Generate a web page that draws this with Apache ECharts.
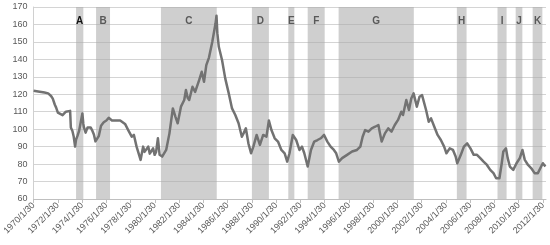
<!DOCTYPE html>
<html>
<head>
<meta charset="utf-8">
<script src="https://cdn.jsdelivr.net/npm/echarts@6/dist/echarts.min.js"></script>
<style>html,body{margin:0;padding:0;background:#fff;}#c{width:550px;height:245px;}</style>
</head>
<body>
<div id="c"></div>
<script>
const dates = [1970.0,1970.5,1970.9,1971.2,1971.44,1971.58,1971.75,1971.85,1972.0,1972.12,1972.39,1972.66,1973.01,1973.07,1973.2,1973.3,1973.42,1973.5,1973.61,1973.75,1973.88,1974.02,1974.1,1974.15,1974.29,1974.45,1974.56,1974.7,1974.85,1974.97,1975.1,1975.24,1975.37,1975.56,1975.78,1976.0,1976.19,1976.46,1976.86,1977.14,1977.27,1977.54,1977.8,1978.09,1978.27,1978.49,1978.63,1978.82,1979.03,1979.15,1979.3,1979.45,1979.58,1979.7,1979.85,1979.98,1980.1,1980.25,1980.39,1980.6,1980.93,1981.2,1981.48,1981.69,1981.88,1982.15,1982.42,1982.56,1982.7,1982.83,1983.1,1983.32,1983.65,1983.86,1984.05,1984.24,1984.46,1984.73,1985.0,1985.08,1985.15,1985.27,1985.54,1985.8,1986.09,1986.36,1986.63,1986.9,1987.17,1987.31,1987.5,1987.71,1987.93,1988.12,1988.39,1988.66,1988.93,1989.2,1989.4,1989.61,1989.88,1990.15,1990.43,1990.7,1990.91,1991.1,1991.37,1991.65,1991.92,1992.13,1992.32,1992.6,1992.87,1993.14,1993.41,1993.68,1993.95,1994.22,1994.49,1994.76,1994.95,1995.17,1995.44,1995.85,1996.26,1996.66,1996.94,1997.13,1997.34,1997.61,1997.88,1998.16,1998.43,1998.56,1998.7,1998.97,1999.24,1999.51,1999.78,2000.05,2000.32,2000.46,2000.73,2000.95,2001.14,2001.33,2001.6,2001.82,2002.03,2002.36,2002.58,2002.77,2003.04,2003.31,2003.58,2003.85,2004.04,2004.31,2004.58,2004.8,2004.93,2005.21,2005.48,2005.75,2006.02,2006.29,2006.56,2006.83,2007.1,2007.38,2007.65,2007.92,2008.14,2008.41,2008.6,2008.73,2008.95,2009.09,2009.27,2009.55,2009.82,2010.09,2010.31,2010.5,2010.77,2011.04,2011.31,2011.58,2011.85,2011.99,2012.2];
const values = [122,121.5,121,120.5,119,117.5,114,112.5,109.5,108.5,108,110,110.5,101,99,96,90,94,96,99,100,109,103,101,98,101,102,101,99,97,93,94,96,102,104,105,106.5,105,105,105,104,103,99.5,95.7,96.7,90,89,82.4,90,87,88,90,86,87,89,85.3,87,94.8,85.3,84.3,88.1,97.6,111.9,107.2,103.4,112.9,116.7,122.4,118,116.7,124.3,121.4,128.1,132.9,127.2,136.7,141,150,160.5,165,155,147.2,139.5,129.1,120.5,111.9,108.1,103.4,95.7,97.6,100.5,91.9,86.2,90,96.7,91,96.7,95.7,105,99.5,94.8,92.9,88.1,86.2,81.4,86.2,96.7,93.8,88.1,90,86.2,78.6,88.1,92.9,93.8,94.8,96.7,92.9,90,88.1,86.2,81.4,83.4,85.3,87.2,88.1,90,95.7,99.5,98.6,100.5,101.4,102.4,97.6,92.9,97.6,100.5,98.6,102.4,105.3,110,108.1,116.7,111,117.6,120.5,112.9,118.6,119.5,111,104.3,106.2,101.4,96.7,93.8,90,86.2,89,88.1,84.3,80.5,85,90,91.9,89,85.3,85.3,83.4,81.4,79.5,76.7,74.8,71.9,71.9,80.5,87.2,89,83.4,78.6,76.7,80.5,83.4,88.1,82.4,79.5,77.6,74.8,74.8,78.6,80.5,78.6];
const bandNames = ['A','B','C','D','E','F','G','H','I','J','K'];
const bandStarts = [1973.5,1975.15,1980.5,1988.0,1991.0,1992.6,1995.15,2004.9,2008.25,2009.75,2011.15];
const bandEnds = [1974.1,1976.3,1985.1,1989.4,1991.5,1994.0,2001.35,2005.7,2009.0,2010.3,2011.95];
const xTickYears = [1970,1972,1974,1976,1978,1980,1982,1984,1986,1988,1990,1992,1994,1996,1998,2000,2002,2004,2006,2008,2010,2012];

const chart = echarts.init(document.getElementById('c'), null, {renderer: 'canvas'});
const font = 'Liberation Sans, Arial, sans-serif';
chart.setOption({
  animation: false,
  grid: {left: 27, right: 4, top: 7, bottom: 46, containLabel: false},
  xAxis: {
    type: 'value', min: 1970, max: 2012.25, interval: 2,
    splitLine: {show: false},
    axisLine: {show: true, lineStyle: {color: '#bfbfbf', width: 1}},
    axisTick: {show: true, length: 4, lineStyle: {color: '#bfbfbf'}, customValues: xTickYears},
    axisLabel: {
      rotate: 45, fontSize: 9, color: '#595959', fontFamily: font, margin: 5,
      customValues: xTickYears,
      formatter: v => v + '/1/30'
    }
  },
  yAxis: {
    type: 'value', min: 60, max: 170, interval: 10,
    axisLine: {show: true, lineStyle: {color: '#d0d0d0'}},
    axisTick: {show: false},
    splitLine: {lineStyle: {color: '#d4d4d4', width: 1}},
    axisLabel: {fontSize: 9, color: '#595959', fontFamily: font, margin: 6}
  },
  series: [
    {
      type: 'line', z: 2,
      data: dates.map((d, i) => [d, values[i]]),
      showSymbol: false, symbol: 'none',
      lineStyle: {color: '#727272', width: 2.5, join: 'round'},
      silent: true
    },
    {
      type: 'line', z: 3, data: [], silent: true,
      markArea: {
        silent: true,
        itemStyle: {color: 'rgba(168,168,168,0.55)'},
        label: {
          show: true, position: 'insideTop', distance: 9,
          fontSize: 10, fontWeight: 'bold', color: '#595959', fontFamily: font
        },
        data: bandNames.map((n, i) => [
          {name: n, xAxis: bandStarts[i], label: i === 0 ? {color: '#111'} : {}},
          {xAxis: bandEnds[i]}
        ])
      }
    }
  ]
});
</script>
</body>
</html>
